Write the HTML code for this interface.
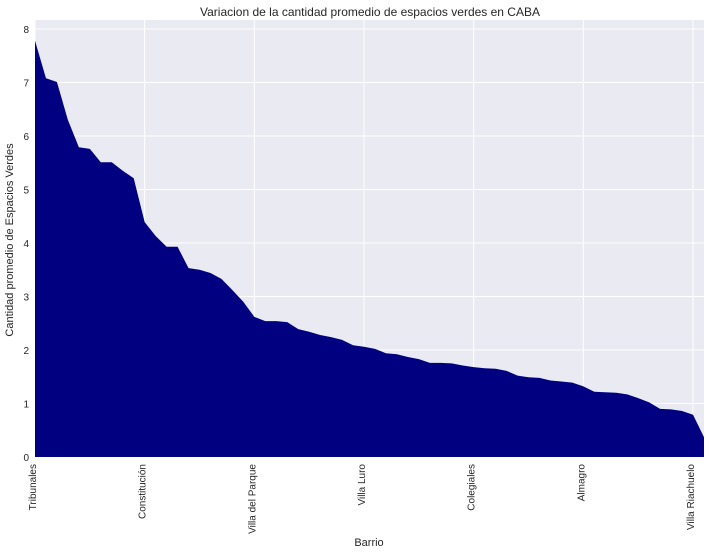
<!DOCTYPE html>
<html><head><meta charset="utf-8"><style>
body{margin:0;background:#fff;font-family:"Liberation Sans",sans-serif;}
svg text{font-family:"Liberation Sans",sans-serif;fill:#262626;}
</style></head><body>
<svg id="chart" width="710" height="555">
<text x="370" y="16" text-anchor="middle" font-size="12">Variacion de la cantidad promedio de espacios verdes en CABA</text>
<rect x="35" y="20" width="669" height="437" fill="#EAEAF2"/>
<g id="grid"></g>
<path id="area" fill="#000080"/>
<g id="yt"></g><g id="xt"></g>
<text x="13" y="240" transform="rotate(-90 13 240)" text-anchor="middle" font-size="11">Cantidad promedio de Espacios Verdes</text>
<text x="369" y="546" text-anchor="middle" font-size="11">Barrio</text>
</svg>
<script>
const values=[7.78,7.08,7.01,6.3,5.79,5.76,5.51,5.51,5.35,5.21,4.39,4.13,3.93,3.93,3.53,3.5,3.44,3.33,3.12,2.9,2.62,2.54,2.54,2.52,2.39,2.34,2.28,2.24,2.19,2.09,2.06,2.02,1.94,1.92,1.87,1.83,1.76,1.76,1.75,1.71,1.68,1.66,1.65,1.61,1.52,1.49,1.48,1.43,1.41,1.39,1.32,1.22,1.21,1.2,1.17,1.1,1.02,0.9,0.89,0.86,0.79,0.37];
const tickLabels=["Tribunales","Constitución","Villa del Parque","Villa Luro","Colegiales","Almagro","Villa Riachuelo"];
const tickIdx=[0,10,20,30,40,50,60];
const yTicks=[0,1,2,3,4,5,6,7,8];
const NS="http://www.w3.org/2000/svg";
const x0=35,x1=704,y0=457,ppu=53.5;
const xs=i=>x0+i*(x1-x0)/(values.length-1);
const ys=v=>y0-v*ppu;
let d="M"+xs(0)+","+y0;
values.forEach((v,i)=>{d+=" L"+xs(i).toFixed(2)+","+ys(v).toFixed(2);});
d+=" L"+xs(values.length-1)+","+y0+" Z";
document.getElementById('area').setAttribute('d',d);
const g=document.getElementById('grid'),yt=document.getElementById('yt'),xt=document.getElementById('xt');
yTicks.forEach(t=>{
 const l=document.createElementNS(NS,'line');
 l.setAttribute('x1',x0);l.setAttribute('x2',x1);l.setAttribute('y1',ys(t));l.setAttribute('y2',ys(t));
 l.setAttribute('stroke','#fff');
 
 
 g.appendChild(l);
 const tx=document.createElementNS(NS,'text');
 tx.setAttribute('x',29);tx.setAttribute('y',ys(t)+4);tx.setAttribute('text-anchor','end');tx.setAttribute('font-size','10');
 tx.textContent=t;
 
 
 yt.appendChild(tx);
});
tickIdx.forEach((idx,k)=>{
 const x=xs(idx);
 const l=document.createElementNS(NS,'line');
 l.setAttribute('x1',x);l.setAttribute('x2',x);l.setAttribute('y1',20);l.setAttribute('y2',y0);
 l.setAttribute('stroke','#fff');
 
 
 g.appendChild(l);
 const tx=document.createElementNS(NS,'text');
 tx.setAttribute('transform','translate('+(x+1)+',464) rotate(-90)');
 tx.setAttribute('text-anchor','end');tx.setAttribute('font-size','10');
 tx.textContent=tickLabels[k];
 
 
 xt.appendChild(tx);
});
</script>
</body></html>
